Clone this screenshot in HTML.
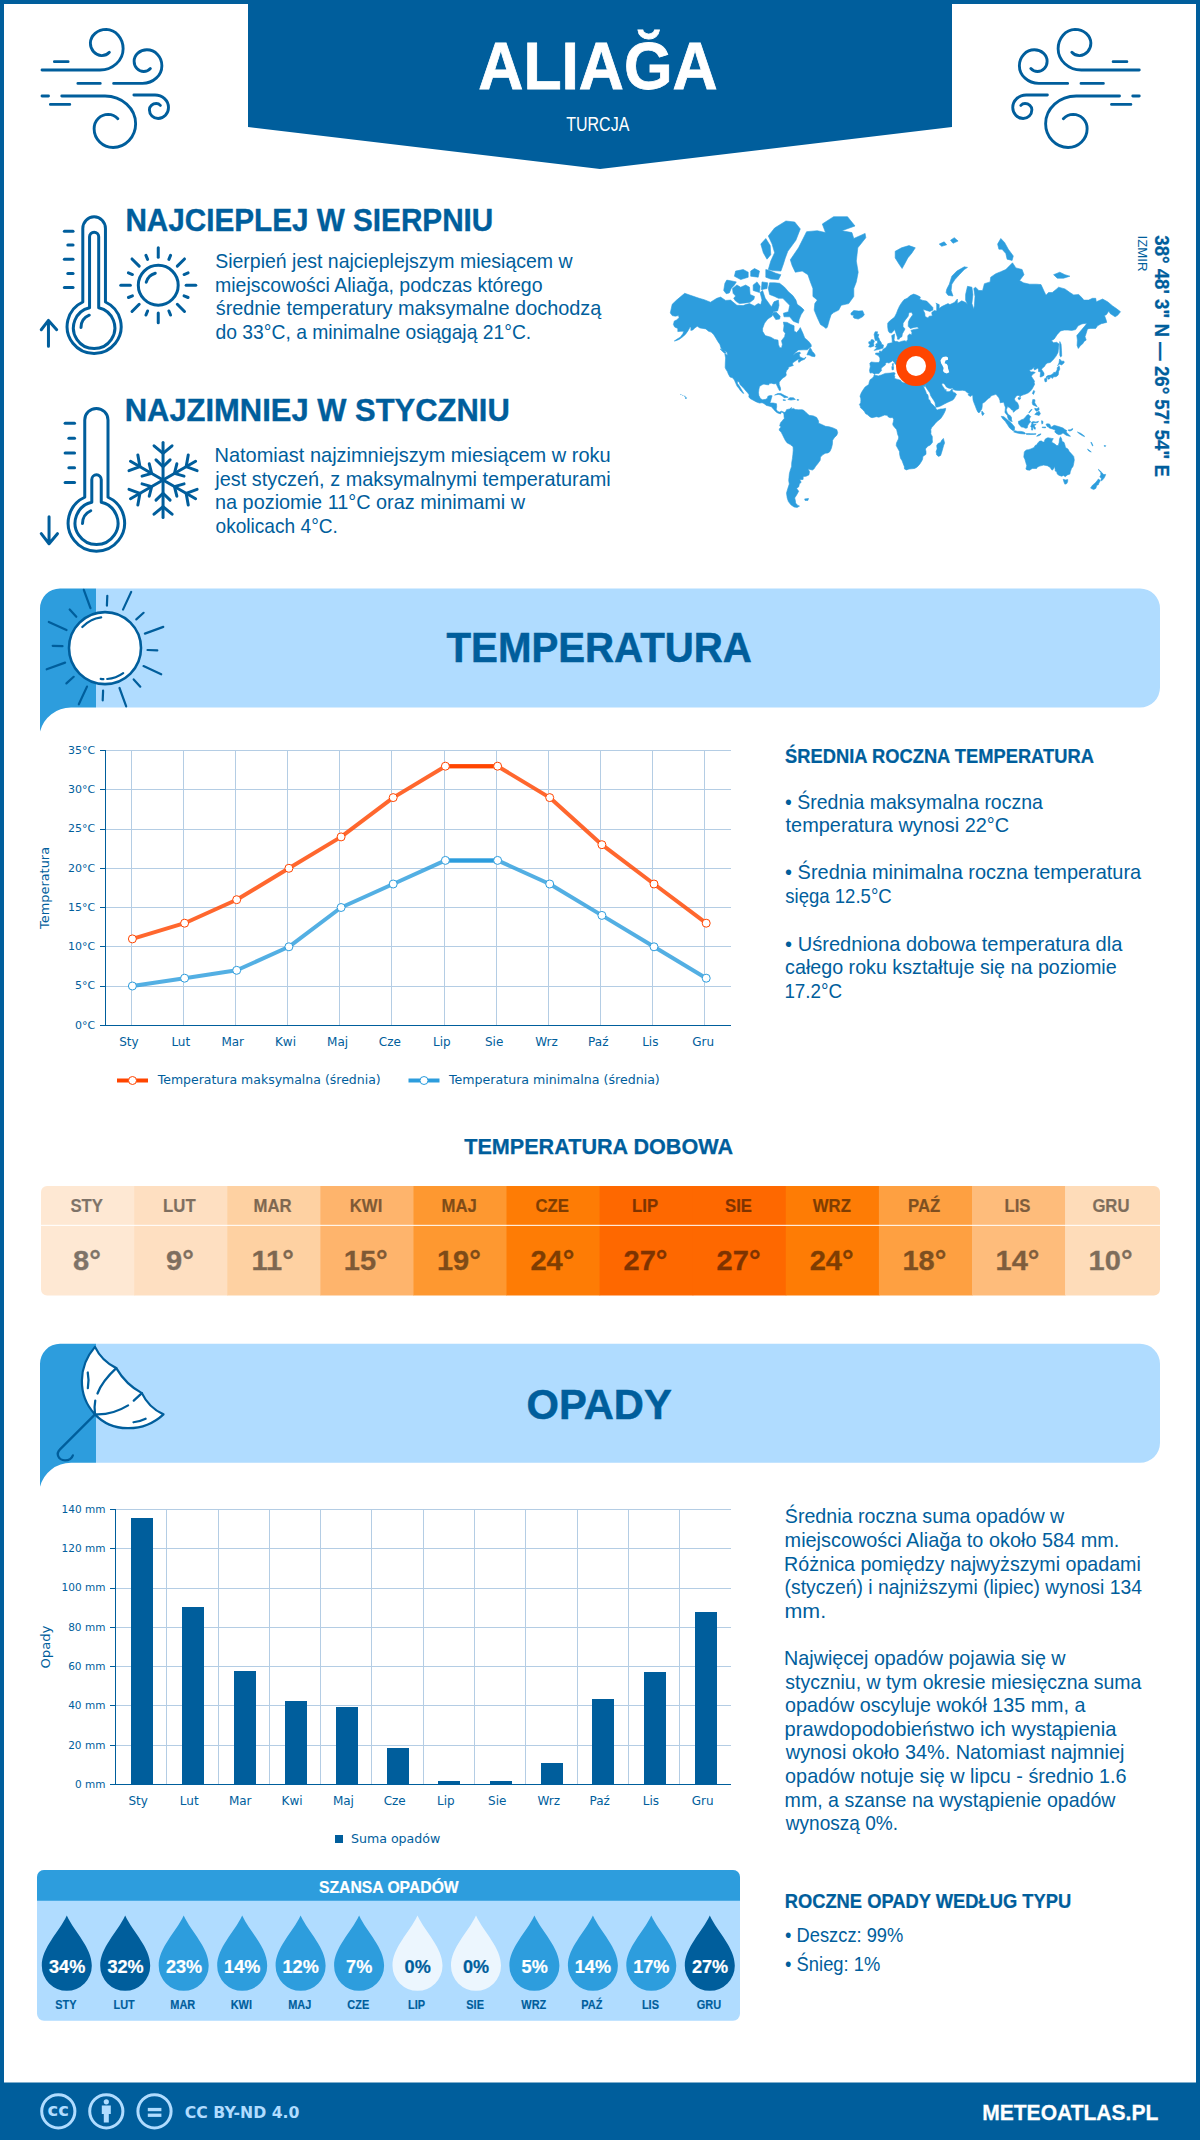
<!DOCTYPE html>
<html lang="pl">
<head>
<meta charset="utf-8">
<title>Aliağa (Turcja) – pogoda i klimat | meteoatlas.pl</title>
<style>
html,body{margin:0;padding:0;background:#fff}
body{width:1200px;height:2140px;overflow:hidden}
svg{display:block}
text{white-space:pre}
</style>
</head>
<body>
<svg width="1200" height="2140" viewBox="0 0 1200 2140" font-family="Liberation Sans, sans-serif" fill="#005e9c">
<rect x="2" y="2" width="1196" height="2136" fill="#fff" stroke="#005e9c" stroke-width="4"/>
<g id="header"><polygon points="248,0 952,0 952,127 600,169 248,127" fill="#005e9c"/>
<text x="478.3" y="89.3" font-size="66.2" font-weight="bold" fill="#ffffff" stroke="#ffffff" stroke-width="0.79" textLength="239.3" lengthAdjust="spacingAndGlyphs">ALIAĞA</text>
<text x="566.3" y="130.7" font-size="20.3" fill="#ffffff" textLength="63.0" lengthAdjust="spacingAndGlyphs">TURCJA</text>
</g>
<g id="wind" fill="none" stroke="#005e9c" stroke-width="23" stroke-linecap="round" stroke-linejoin="round">
<g transform="translate(30,20) scale(0.125)"><path d="M195,333H305 M96,400H560A185,170 0 0 0 745,230A138,155 0 0 0 610,75A127,112 0 0 0 483,185A92,100 0 0 0 572,285A82,82 0 0 0 635,258 M383,507H562 M669,507H900A155,142 0 0 0 1055,365A120,127 0 0 0 935,238A102,92 0 0 0 833,330A77,82 0 0 0 910,412A70,70 0 0 0 963,388 M96,608H148 M254,608H600A245,222 0 0 1 845,830A180,190 0 0 1 665,1020A152,150 0 0 1 513,870A112,115 0 0 1 625,755A110,110 0 0 1 703,790 M163,675H318 M831,600H1000A108,100 0 0 1 1108,700A83,88 0 0 1 1025,788A70,70 0 0 1 955,718A55,50 0 0 1 1010,668A45,45 0 0 1 1043,683"/></g>
<g transform="translate(1000,20) scale(0.125) translate(1210,0) scale(-1,1)"><path d="M195,333H305 M96,400H560A185,170 0 0 0 745,230A138,155 0 0 0 610,75A127,112 0 0 0 483,185A92,100 0 0 0 572,285A82,82 0 0 0 635,258 M383,507H562 M669,507H900A155,142 0 0 0 1055,365A120,127 0 0 0 935,238A102,92 0 0 0 833,330A77,82 0 0 0 910,412A70,70 0 0 0 963,388 M96,608H148 M254,608H600A245,222 0 0 1 845,830A180,190 0 0 1 665,1020A152,150 0 0 1 513,870A112,115 0 0 1 625,755A110,110 0 0 1 703,790 M163,675H318 M831,600H1000A108,100 0 0 1 1108,700A83,88 0 0 1 1025,788A70,70 0 0 1 955,718A55,50 0 0 1 1010,668A45,45 0 0 1 1043,683"/></g>
</g>
<g id="thermo" fill="none" stroke="#005e9c" stroke-width="20" stroke-linecap="round" stroke-linejoin="round">
<g transform="translate(30,200) scale(0.15)"><path d="M352,680V190A75,77 0 0 1 503,190V680A180,180 0 1 1 352,680Z"/><path d="M397,718V245A30,30 0 0 1 458,245V718A138,138 0 1 1 397,718Z"/><path d="M229,208H287"/><path d="M252,300H287"/><path d="M229,395H287"/><path d="M252,490H287"/><path d="M229,583H287"/><path d="M340,850A90,90 0 0 1 395,768"/><path d="M123,975V805M75,865L123,803L178,865"/><circle cx="855" cy="568" r="133"/><path d="M775,548A85,85 0 0 1 835,488"/><path d="M855,382L855,318"/><path d="M926,396L937,369"/><path d="M982,441L1030,393"/><path d="M1027,497L1054,486"/><path d="M1041,568L1105,568"/><path d="M1027,639L1054,650"/><path d="M982,695L1030,743"/><path d="M926,740L937,767"/><path d="M855,754L855,818"/><path d="M784,740L773,767"/><path d="M728,695L680,743"/><path d="M683,639L656,650"/><path d="M669,568L605,568"/><path d="M683,497L656,486"/><path d="M728,441L680,393"/><path d="M784,396L773,369"/></g>
<g transform="translate(30,390) scale(0.15)"><path d="M365,715V200A77,77 0 0 1 520,200V715A188,188 0 1 1 365,715Z"/><path d="M412,748V597A31,31 0 0 1 475,597V748A143,143 0 1 1 412,748Z"/><path d="M234,222H297"/><path d="M259,322H297"/><path d="M234,420H297"/><path d="M259,518H297"/><path d="M234,617H297"/><path d="M350,890A95,95 0 0 1 405,805"/><path d="M127,845V1022M75,958L127,1025L183,958"/><path d="M887,600L887,350"/><path d="M947,372L887,422L827,372"/><path d="M934,466L887,512L840,466"/><path d="M887,600L1104,475"/><path d="M1114,538L1041,511L1055,434"/><path d="M1027,574L963,556L979,492"/><path d="M887,600L1104,725"/><path d="M1055,766L1041,689L1114,662"/><path d="M979,708L963,644L1027,626"/><path d="M887,600L887,850"/><path d="M827,828L887,778L947,828"/><path d="M840,734L887,688L934,734"/><path d="M887,600L670,725"/><path d="M660,662L733,689L719,766"/><path d="M747,626L811,644L795,708"/><path d="M887,600L670,475"/><path d="M719,434L733,511L660,538"/><path d="M795,492L811,556L747,574"/></g>
</g>
<g id="toptext">
<text x="125.4" y="231.0" font-size="31.0" font-weight="bold" stroke="#005e9c" stroke-width="0.37" textLength="367.9" lengthAdjust="spacingAndGlyphs">NAJCIEPLEJ W SIERPNIU</text>
<text x="215.2" y="268.3" font-size="20.2" textLength="357.4" lengthAdjust="spacingAndGlyphs">Sierpień jest najcieplejszym miesiącem w</text>
<text x="215.0" y="291.8" font-size="20.2" textLength="327.5" lengthAdjust="spacingAndGlyphs">miejscowości Aliağa, podczas którego</text>
<text x="215.7" y="315.3" font-size="20.2" textLength="385.6" lengthAdjust="spacingAndGlyphs">średnie temperatury maksymalne dochodzą</text>
<text x="215.5" y="338.8" font-size="20.2" textLength="315.7" lengthAdjust="spacingAndGlyphs">do 33°C, a minimalne osiągają 21°C.</text>
<text x="124.7" y="421.3" font-size="31.0" font-weight="bold" stroke="#005e9c" stroke-width="0.37" textLength="385.1" lengthAdjust="spacingAndGlyphs">NAJZIMNIEJ W STYCZNIU</text>
<text x="214.5" y="462.0" font-size="20.2" textLength="396.1" lengthAdjust="spacingAndGlyphs">Natomiast najzimniejszym miesiącem w roku</text>
<text x="215.3" y="485.5" font-size="20.2" textLength="395.4" lengthAdjust="spacingAndGlyphs">jest styczeń, z maksymalnymi temperaturami</text>
<text x="215.0" y="509.0" font-size="20.2" textLength="310.1" lengthAdjust="spacingAndGlyphs">na poziomie 11°C oraz minimami w</text>
<text x="215.5" y="532.5" font-size="20.2" textLength="122.4" lengthAdjust="spacingAndGlyphs">okolicach 4°C.</text>
<text transform="translate(1154.8,235.3) rotate(90)" font-size="20.7" font-weight="bold" stroke="#005e9c" stroke-width="0.25" textLength="241.6" lengthAdjust="spacingAndGlyphs">38° 48' 3" N — 26° 57' 54" E</text>
<text transform="translate(1138.0,235.6) rotate(90)" font-size="13.5" textLength="35.8" lengthAdjust="spacingAndGlyphs">IZMIR</text>
</g>
<g id="map"><path fill="#2d9ddd" stroke="#2d9ddd" stroke-width="0.6" stroke-linejoin="round" d="M670.3,312.9L672.2,304.3L676.6,300.1L684.7,293.3L690.4,295.3L699.2,298.3L704.2,299.7L710.5,302.2L716.8,298.3L720.6,297.1L725.6,300.4L730.6,300.1L736.9,305.3L743.2,305.6L745.7,304.6L749.5,303.6L754.5,305.9L758.2,303.6L760.8,304.6L762.0,300.1L760.1,292.5L762.6,290.5L765.2,298.3L768.3,302.5L771.4,306.9L774.0,301.8L778.4,300.1L779.0,305.3L777.7,310.8L773.3,311.7L772.1,316.2L767.7,319.1L764.5,323.2L762.6,328.4L762.6,331.3L765.2,335.6L770.8,337.2L774.6,339.4L778.0,340.1L778.4,344.4L779.6,347.5L781.5,347.9L782.4,344.4L781.5,340.7L784.6,336.7L785.3,333.3L783.4,330.9L784.0,325.8L783.4,322.1L787.2,322.4L790.9,324.5L794.1,325.8L794.1,330.9L796.6,332.5L799.1,329.6L800.3,327.6L802.9,333.3L804.7,337.9L808.5,341.2L811.0,344.4L811.4,346.4L809.8,347.5L807.3,349.8L803.5,349.8L798.5,350.0L795.3,352.4L792.8,355.6L795.9,353.1L799.7,352.0L800.6,353.3L799.1,354.6L800.0,357.0L802.2,357.9L804.1,358.5L806.0,357.0L804.7,359.2L801.6,360.4L798.8,362.4L798.2,360.6L800.3,358.8L797.2,359.7L794.7,361.5L792.8,362.7L792.4,364.1L793.4,365.4L790.9,366.3L788.4,367.3L788.2,369.1L786.5,370.7L785.9,372.8L786.3,375.3L784.9,376.7L782.8,378.0L780.9,380.0L779.2,382.2L779.2,384.4L780.5,387.9L780.6,390.3L779.4,390.5L778.4,388.6L777.4,386.5L776.1,383.6L774.0,383.9L771.4,383.2L769.2,383.4L768.9,384.8L767.0,384.7L763.9,384.1L762.0,384.8L759.5,386.5L758.9,389.3L758.5,392.8L758.9,395.5L760.4,398.5L762.6,399.8L765.8,399.3L767.4,398.2L767.9,396.2L770.2,395.5L772.1,395.7L771.4,398.2L770.6,400.9L769.9,403.0L773.3,403.0L776.5,403.7L776.7,406.7L776.2,409.3L777.7,411.5L779.6,412.1L781.5,411.2L784.0,412.2L784.3,413.1L783.1,412.7L781.5,412.0L780.5,413.9L779.0,413.4L777.1,412.7L774.6,410.6L773.6,409.3L771.4,406.7L768.9,406.1L766.4,405.4L763.9,403.5L762.0,402.7L759.5,403.1L756.4,401.9L753.2,400.2L750.1,398.5L748.8,396.9L749.1,394.8L747.6,392.8L745.1,390.0L743.8,388.2L741.9,386.5L740.0,384.4L739.1,381.9L737.3,381.2L737.5,383.6L739.4,386.1L741.3,389.3L742.8,391.8L743.8,393.4L742.8,393.1L740.7,391.0L738.8,388.2L737.1,386.2L735.9,383.6L734.4,380.0L732.5,377.7L730.0,377.0L728.3,373.9L727.5,371.8L725.8,369.1L725.2,367.6L725.3,363.2L725.6,357.9L724.8,353.7L727.5,355.2L727.1,352.4L724.3,350.4L721.2,348.5L719.9,344.4L717.7,341.2L715.8,337.9L713.6,334.4L711.1,332.1L708.6,331.3L705.8,328.9L703.0,328.4L699.8,327.9L697.3,326.3L694.8,327.9L692.9,329.9L690.8,330.4L691.0,325.8L692.9,325.0L689.8,327.6L687.9,330.9L685.4,334.4L682.2,337.2L679.1,339.4L675.9,340.7L674.3,341.0L677.2,339.0L680.3,337.2L682.9,333.7L683.7,331.3L681.0,331.3L677.8,331.6L677.8,328.4L674.7,327.1L673.4,324.5L674.3,321.0L676.6,319.9L679.1,317.7L678.5,315.6L675.3,316.2L672.2,315.6ZM804.1,310.1L801.0,314.7L799.1,319.6L798.5,323.2L793.4,321.3L789.7,316.8L784.0,316.8L783.4,313.2L788.4,311.7L789.7,305.3L782.8,298.3L778.4,298.3L774.6,296.4L769.6,294.5L768.3,288.5L769.6,282.8L774.6,282.8L779.6,283.3L784.6,287.2L788.4,291.7L792.8,295.6L795.9,300.1L797.2,304.3L801.6,307.6ZM735.6,301.1L739.4,303.6L745.7,302.9L750.1,302.2L753.9,299.3L754.5,296.4L750.1,294.5L749.5,287.2L745.7,285.0L740.7,287.2L736.9,285.0L732.5,288.5L733.1,293.3L735.6,296.0L733.7,298.3ZM723.7,290.5L726.2,293.7L729.3,292.9L731.2,288.5L734.4,285.0L736.3,281.9L731.9,281.0L726.8,280.1L724.9,283.3ZM768.3,269.5L773.3,270.6L780.9,271.1L783.4,264.0L785.3,257.9L787.8,251.3L795.9,240.2L800.3,228.9L794.7,222.0L785.9,221.0L774.6,228.0L768.3,236.0L772.1,244.1L774.6,252.7L770.8,261.0ZM760.8,244.1L765.8,238.5L770.2,245.6L770.8,254.7L767.0,259.2L763.3,252.7ZM780.9,274.7L778.4,279.6L770.8,279.1L765.8,277.2L765.8,269.5L769.6,270.6L775.8,273.2ZM734.4,276.2L740.7,279.6L748.2,277.2L748.2,272.2L743.2,269.5L735.6,271.1ZM750.7,276.2L758.2,277.2L759.5,271.1L754.5,268.5L750.7,271.1ZM753.2,290.5L759.5,292.5L760.1,286.3L757.0,281.9L753.2,285.0ZM761.4,289.7L767.0,288.5L767.7,282.8L762.0,281.9ZM772.1,313.8L775.8,319.6L779.6,319.1L780.2,316.2L776.5,312.3L774.0,312.3ZM806.9,354.8L809.1,355.0L811.7,356.3L814.8,356.7L815.2,355.0L813.9,353.1L812.3,351.4L811.4,349.4L810.1,347.7L809.1,349.8L807.9,352.4ZM720.2,348.9L723.9,350.0L726.2,353.3L724.3,353.1L721.8,350.8ZM790.3,259.8L798.5,247.8L806.6,231.7L817.3,230.7L825.5,232.6L822.3,224.0L833.6,216.7L847.5,216.7L855.0,226.0L841.8,230.7L851.9,232.6L853.8,238.5L865.1,233.4L865.8,237.7L857.8,247.8L856.3,261.0L858.2,272.2L856.3,281.9L853.8,288.5L853.8,296.4L848.7,303.6L841.2,305.3L838.7,310.1L833.6,312.6L831.1,314.7L829.2,320.5L827.4,327.1L826.1,328.4L823.6,326.6L820.5,324.5L818.6,320.5L816.7,316.2L814.2,310.1L814.8,303.6L817.3,300.1L812.9,296.4L812.9,288.5L810.4,281.9L807.9,274.7L802.2,271.1L795.3,272.2L792.2,265.7ZM850.9,313.2L853.8,310.5L858.8,311.1L862.6,310.8L864.3,314.7L862.6,316.8L858.2,319.1L854.4,318.2L853.1,317.1L853.8,315.3L851.2,315.0ZM784.3,412.5L785.9,411.5L786.5,409.7L789.7,408.9L791.6,407.5L791.2,409.3L793.4,408.4L795.3,409.5L798.5,409.8L802.2,409.7L804.1,410.6L806.0,412.5L809.1,415.3L813.5,415.9L816.7,417.5L818.6,421.1L818.6,423.2L821.1,424.2L825.5,426.3L829.2,426.8L833.0,427.9L836.8,429.7L837.7,432.7L836.8,435.2L834.3,437.7L832.6,440.3L832.4,444.2L831.4,448.2L829.9,451.6L828.0,452.9L825.5,453.2L823.0,454.6L820.5,457.1L820.2,460.3L817.9,463.5L815.8,466.1L813.9,469.0L812.3,470.1L809.8,469.4L808.0,468.7L809.5,471.7L808.9,474.9L806.0,476.3L803.2,476.5L803.1,479.4L799.7,479.8L801.2,482.3L799.3,484.0L798.8,486.7L796.6,488.5L798.7,491.2L796.6,495.0L794.7,497.9L795.4,500.8L795.6,503.1L797.8,505.4L799.5,506.1L797.2,507.4L794.1,507.0L790.9,504.8L788.4,501.6L787.2,497.9L786.5,493.1L787.8,488.5L789.3,484.0L788.7,480.6L789.0,477.3L789.4,473.6L790.3,470.2L791.6,466.4L791.7,462.8L792.4,458.5L792.9,454.3L793.2,450.2L793.1,446.7L790.3,444.6L787.2,442.9L785.5,440.7L784.3,438.4L782.4,434.6L781.1,432.0L779.4,430.5L779.2,428.9L780.6,427.5L780.9,426.3L779.7,426.0L780.2,423.8L780.9,422.2L782.1,421.3L782.8,420.1L784.3,418.4L784.0,416.3L784.0,414.4L783.5,414.0ZM874.0,375.0L878.3,375.9L881.4,375.0L885.2,373.4L890.2,373.1L894.0,372.6L895.2,373.2L894.3,375.4L895.0,377.0L894.2,378.0L895.9,378.9L897.7,379.4L900.6,380.3L901.5,381.8L904.0,382.9L906.3,382.5L906.8,380.3L909.0,379.4L910.9,380.4L912.8,381.2L916.0,381.8L917.8,382.3L920.4,381.5L922.0,381.9L922.4,383.8L923.5,386.5L924.4,388.6L926.0,392.1L926.3,393.5L927.8,394.8L928.3,396.9L928.3,399.1L929.8,400.2L930.8,403.1L932.9,404.8L934.8,406.7L935.8,407.4L935.8,408.7L937.3,409.9L940.5,409.0L943.0,408.9L945.7,408.3L945.5,410.1L944.2,413.1L942.3,416.3L940.5,418.8L937.9,420.7L935.4,423.2L933.6,425.5L931.7,427.6L930.8,429.5L931.0,432.0L930.8,433.9L932.3,436.5L932.3,439.7L932.5,442.3L930.4,444.9L927.8,446.2L925.4,448.9L926.0,451.6L926.0,454.3L922.9,456.4L922.6,459.2L921.6,461.3L919.7,464.2L917.2,466.9L914.7,468.4L911.6,468.8L909.0,469.0L906.5,469.9L904.5,469.0L904.3,466.4L903.1,463.5L902.1,460.7L900.5,458.2L899.6,454.3L899.5,451.6L897.7,448.2L896.2,445.5L896.5,442.9L898.4,439.0L898.7,436.9L897.7,434.6L896.9,430.8L896.5,429.4L895.2,428.0L893.3,425.7L892.7,424.1L893.3,421.9L893.7,419.4L892.6,417.5L890.2,417.7L888.3,416.9L887.1,415.3L884.5,415.1L882.7,415.8L878.9,417.2L876.4,416.7L872.0,417.7L870.1,416.9L867.6,414.8L865.7,413.7L864.4,411.5L862.6,409.5L860.4,407.6L860.3,406.1L859.4,404.5L860.7,402.8L860.9,400.2L860.7,398.2L860.0,396.2L861.3,392.8L862.8,390.3L865.1,387.0L866.9,385.8L868.8,384.4L869.2,382.2L870.1,379.7L872.6,378.0L873.9,376.2ZM943.4,438.4L944.6,442.9L943.6,445.5L942.3,450.2L940.7,455.4L938.6,456.4L936.7,455.0L936.1,451.6L937.1,448.9L936.7,445.5L937.9,443.6L940.5,442.5L941.7,440.3ZM870.1,373.1L869.5,370.4L870.3,366.6L869.8,363.2L871.3,362.0L875.1,362.4L878.9,362.5L879.9,360.6L879.9,357.9L878.3,355.6L875.5,354.3L875.7,353.1L879.3,352.9L879.5,351.0L881.7,351.4L883.4,348.9L885.8,347.7L887.1,345.4L887.7,343.7L890.2,343.1L892.3,342.7L892.1,339.0L891.7,335.6L894.6,334.0L894.3,337.9L894.0,340.1L895.2,341.6L897.1,341.4L899.0,342.3L902.1,341.2L904.6,340.7L906.3,341.4L907.8,339.4L907.8,335.6L909.7,334.0L911.6,335.1L911.9,332.5L910.9,330.4L914.1,329.4L917.2,328.9L919.1,328.4L917.2,326.9L914.1,327.4L910.3,328.6L908.2,326.3L908.4,321.8L909.7,319.1L912.8,314.7L911.6,312.3L909.0,312.6L908.2,316.2L905.3,319.9L903.1,323.2L903.0,326.6L905.0,328.9L904.0,330.9L902.4,333.7L901.9,336.7L899.6,337.9L899.2,339.2L897.5,339.2L897.4,337.2L896.2,334.0L895.2,330.9L894.6,329.6L893.3,331.3L891.5,333.0L889.6,332.8L888.3,330.9L887.7,327.1L887.7,323.2L889.6,321.0L892.1,319.1L894.6,317.1L896.5,313.2L897.7,310.1L899.6,305.9L901.5,302.9L904.0,299.7L907.2,298.3L910.3,295.6L913.7,294.1L917.2,295.3L920.4,297.1L919.7,299.3L922.9,300.4L926.6,301.1L929.8,304.3L932.9,307.6L932.9,310.1L929.8,311.4L925.4,310.1L922.9,309.5L924.8,313.2L925.1,316.5L927.9,317.9L929.2,316.2L932.3,315.9L931.7,312.6L934.2,310.5L936.7,311.1L936.7,303.6L935.8,303.2L939.2,304.6L939.2,308.6L941.7,306.6L948.0,303.6L949.9,304.6L954.3,302.5L957.4,299.0L957.4,303.6L961.8,300.8L965.6,302.5L967.5,304.6L965.6,300.1L965.6,294.5L967.5,286.3L971.9,287.2L972.9,294.5L971.9,303.6L973.8,309.2L974.4,305.3L975.0,296.4L973.8,288.5L975.6,287.2L978.8,290.5L982.6,290.5L984.4,283.7L990.1,281.9L990.7,277.2L995.8,273.7L1000.8,271.7L1005.8,269.5L1012.5,262.8L1015.9,267.9L1022.1,269.5L1024.0,274.7L1019.6,280.5L1023.4,282.8L1029.7,284.2L1036.6,284.2L1041.0,284.6L1044.1,291.3L1046.0,295.3L1048.5,292.5L1052.3,292.5L1056.7,288.9L1058.6,287.2L1064.9,288.9L1069.9,292.5L1073.7,294.9L1078.7,294.5L1082.5,298.3L1083.7,300.1L1088.7,300.1L1092.5,298.3L1095.7,298.3L1096.3,301.8L1102.6,299.0L1107.6,301.8L1112.6,305.9L1116.4,308.6L1120.5,311.7L1117.6,315.3L1115.1,316.8L1110.1,313.5L1108.9,311.1L1106.3,314.7L1104.5,315.6L1106.3,320.5L1106.7,322.4L1101.3,323.7L1097.5,325.8L1095.7,328.4L1090.0,328.4L1087.5,328.9L1086.2,333.3L1085.0,336.7L1086.2,340.1L1084.3,341.2L1082.5,344.0L1080.6,345.4L1078.3,348.5L1077.1,345.4L1077.4,340.1L1076.8,335.6L1078.7,333.3L1081.8,329.6L1085.0,325.8L1086.9,323.2L1083.1,323.7L1081.8,324.0L1078.1,325.8L1075.6,329.6L1071.8,330.4L1068.0,330.1L1064.2,330.1L1060.5,330.9L1057.3,334.4L1054.2,339.0L1051.4,340.7L1053.6,342.7L1056.7,342.3L1059.0,344.0L1058.6,347.5L1058.0,352.4L1056.1,356.1L1053.6,359.2L1050.4,362.4L1047.3,363.1L1045.6,364.4L1044.4,366.6L1042.2,368.3L1041.6,369.4L1044.0,373.1L1043.9,375.4L1041.6,376.7L1040.1,377.0L1040.4,373.9L1040.7,372.0L1038.5,371.5L1038.5,369.1L1037.6,368.3L1034.7,369.9L1033.8,369.1L1034.5,367.0L1031.6,369.6L1029.3,369.9L1030.7,372.0L1033.2,371.8L1035.3,372.6L1032.8,374.3L1031.3,376.2L1032.8,378.5L1034.5,381.2L1034.1,382.9L1034.7,384.1L1033.5,386.5L1031.9,389.3L1030.3,391.2L1028.4,392.8L1025.9,393.9L1024.0,394.6L1020.9,395.7L1020.0,397.1L1019.3,395.5L1017.1,395.4L1015.5,396.9L1014.4,398.9L1015.2,400.9L1017.5,402.8L1018.8,406.1L1018.6,408.4L1015.9,410.1L1014.0,411.8L1013.1,412.2L1013.3,410.6L1011.5,409.8L1010.2,408.0L1008.3,407.1L1007.7,406.1L1007.1,408.0L1006.2,409.9L1007.1,412.5L1008.3,414.6L1010.2,415.6L1011.5,417.5L1011.5,420.1L1012.3,421.4L1010.8,421.3L1008.7,419.7L1007.7,417.5L1007.4,415.6L1005.8,413.4L1004.9,412.5L1005.2,409.9L1005.4,407.4L1004.2,404.1L1003.9,402.2L1002.0,402.4L1000.2,402.8L999.9,400.2L998.9,397.8L997.0,395.5L995.8,394.2L994.5,394.8L992.6,395.3L990.7,396.2L990.1,397.5L988.2,398.5L986.3,400.5L984.4,402.2L982.3,403.5L982.2,406.5L981.7,409.3L980.9,410.3L980.0,411.8L978.8,413.0L977.5,411.5L976.3,408.7L975.3,406.1L974.1,403.1L973.1,400.2L972.9,398.2L972.8,395.9L972.1,395.1L970.6,396.5L968.7,395.5L968.1,394.2L969.7,393.8L967.5,392.8L966.2,391.8L965.2,390.7L962.5,390.3L958.7,390.5L955.5,390.2L953.4,389.6L952.8,387.9L950.3,388.5L948.0,387.9L946.1,386.7L944.9,384.4L943.0,383.1L941.7,383.9L942.3,385.8L943.6,387.5L944.5,388.9L945.2,391.0L945.9,389.2L946.2,391.4L948.0,391.8L949.9,391.4L951.8,389.3L952.3,388.9L952.4,391.0L953.7,392.4L955.3,393.1L956.5,394.2L955.3,396.6L953.9,398.9L952.4,400.2L950.5,401.1L947.4,402.4L944.2,404.1L941.1,405.8L937.9,407.0L936.1,407.1L935.4,405.4L935.1,402.8L933.8,400.5L932.3,398.2L930.7,395.8L929.8,392.8L928.3,390.7L926.6,388.2L925.4,386.4L925.3,384.4L924.5,386.8L923.1,385.5L922.4,383.6L922.0,381.9L924.4,381.8L925.3,380.0L926.0,377.7L926.5,375.4L926.8,373.6L924.8,373.6L922.2,374.5L919.9,373.4L917.8,373.9L916.0,373.1L914.7,370.7L914.3,369.1L914.7,367.9L916.0,367.6L915.0,367.4L914.1,366.8L912.2,366.8L911.3,368.3L910.1,367.4L909.9,369.4L910.9,370.7L911.6,372.0L910.3,371.7L910.6,372.6L909.9,373.9L908.7,373.4L908.0,371.8L907.8,370.2L906.5,368.8L905.8,367.4L905.9,365.4L904.6,364.1L902.1,362.4L900.2,360.6L899.4,359.2L898.6,358.5L896.9,359.2L897.1,361.2L898.5,362.2L899.6,364.4L901.5,365.1L903.4,367.0L904.6,368.1L902.8,367.4L902.3,368.8L902.9,369.9L901.6,371.5L901.1,371.2L901.5,369.1L900.6,367.9L899.4,367.0L897.1,365.6L895.2,364.1L894.3,362.4L892.7,360.8L890.8,361.9L888.9,363.1L887.1,362.5L885.4,363.2L885.4,364.9L883.9,366.1L882.0,367.4L881.0,369.1L881.7,370.2L880.5,371.8L878.9,373.4L875.7,373.6L874.5,374.5L873.5,373.6L872.2,372.8ZM874.2,350.4L877.0,349.8L880.1,349.1L883.0,348.1L883.5,345.0L881.8,344.4L881.1,342.3L879.5,340.1L878.9,337.9L877.9,337.2L878.9,334.4L877.0,334.0L877.6,331.8L875.1,331.8L874.1,334.4L874.5,336.7L874.9,339.0L875.4,340.5L877.3,340.5L877.6,343.3L875.7,344.0L876.1,345.4L874.9,346.8L877.4,347.7L876.0,348.5ZM873.9,346.0L873.6,343.3L874.4,341.2L873.2,339.7L871.1,339.7L870.7,341.4L868.8,341.8L868.8,343.5L870.1,344.2L869.1,346.0L868.6,346.8L870.7,347.2ZM1059.2,365.9L1059.8,369.1L1058.6,371.5L1058.3,374.7L1057.3,375.9L1055.8,376.7L1053.6,376.8L1052.3,378.5L1051.0,377.0L1048.5,377.3L1046.0,377.7L1046.0,377.0L1047.9,375.6L1051.0,375.1L1053.2,373.4L1053.9,372.3L1055.4,372.6L1057.1,369.9L1057.3,367.4ZM1057.7,365.8L1059.0,362.9L1059.6,359.0L1061.7,361.2L1064.0,361.2L1064.2,362.7L1061.7,364.9L1059.2,364.1ZM1044.8,378.5L1047.0,378.5L1046.6,381.5L1045.1,381.9L1044.5,379.5ZM1047.9,377.7L1050.4,377.4L1050.0,378.5L1048.5,379.2L1047.7,378.8ZM1059.8,341.6L1061.1,344.4L1061.5,350.4L1061.7,356.1L1060.7,357.0L1059.8,355.2L1059.8,350.4L1059.6,346.4ZM1034.1,390.5L1034.7,391.4L1033.5,394.4L1032.4,393.5L1033.5,390.7ZM1018.4,397.5L1020.9,397.8L1019.6,399.8L1018.0,398.9ZM981.9,411.0L984.2,413.7L982.6,415.6L981.7,413.7ZM1032.8,399.5L1035.0,399.8L1034.7,402.8L1037.2,406.7L1034.7,405.7L1032.8,404.8L1032.2,402.8ZM1034.7,414.4L1036.6,412.5L1039.1,411.2L1040.4,413.7L1039.1,415.6L1037.2,415.0ZM1034.7,408.3L1036.6,408.7L1038.9,407.6L1039.1,409.9L1036.6,411.2L1035.1,409.9ZM1028.7,412.5L1031.6,409.0L1031.9,409.7L1029.4,412.7ZM1001.2,416.3L1003.9,416.7L1007.7,420.1L1011.5,423.2L1014.6,427.0L1014.4,430.5L1012.7,430.5L1009.6,427.9L1007.4,424.5L1005.2,421.3L1002.7,418.8ZM1013.6,431.8L1015.2,430.8L1017.7,431.4L1020.9,431.4L1023.4,431.9L1025.3,433.0L1025.0,434.0L1020.9,433.7L1017.1,433.0L1014.0,432.0ZM1025.9,433.7L1028.4,433.5L1030.9,433.7L1033.5,433.8L1036.0,433.7L1035.7,434.3L1032.2,434.4L1028.4,434.6L1026.2,434.3ZM1036.6,436.2L1038.5,434.6L1041.0,433.8L1040.4,434.9L1037.9,436.1ZM1018.4,421.3L1019.6,420.9L1021.5,419.7L1023.4,419.2L1025.3,417.2L1027.2,415.0L1028.4,414.4L1029.4,415.6L1030.9,416.7L1029.7,417.9L1029.4,420.1L1030.7,421.9L1029.1,423.2L1027.8,425.5L1027.2,428.0L1025.3,428.2L1023.4,427.2L1021.5,427.0L1019.9,425.5L1018.6,423.8ZM1031.6,422.2L1033.2,421.6L1036.0,422.1L1038.5,421.3L1037.9,422.6L1033.5,422.7L1032.6,424.3L1034.1,424.3L1036.3,424.2L1034.7,425.5L1034.1,426.0L1035.3,427.6L1035.3,429.2L1034.1,428.9L1033.2,427.0L1032.6,427.6L1032.7,430.1L1031.6,430.1L1031.6,427.6L1030.7,426.7L1031.8,423.8ZM1041.6,420.7L1042.9,421.3L1042.9,423.2L1042.0,424.2L1041.6,422.6ZM1042.2,427.0L1045.8,427.0L1045.4,427.9L1042.2,427.6ZM1046.0,424.2L1047.9,423.7L1049.8,424.2L1051.0,427.3L1054.2,425.3L1058.6,426.5L1063.0,428.0L1064.9,429.5L1067.0,430.8L1066.1,431.8L1068.0,433.9L1070.5,436.2L1069.3,436.2L1066.1,435.2L1063.0,432.9L1061.1,434.3L1058.6,434.7L1056.1,433.3L1054.8,432.0L1055.4,430.1L1052.3,428.9L1049.2,428.0L1048.3,426.7L1047.3,426.7ZM1068.0,430.1L1070.5,429.7L1072.7,428.5L1072.4,429.9L1069.9,431.1ZM1024.3,452.2L1024.8,451.3L1026.5,449.9L1028.4,449.7L1030.9,448.9L1034.1,447.5L1035.1,445.5L1036.6,444.9L1037.9,442.9L1039.7,441.0L1041.6,441.0L1042.9,442.0L1044.4,442.0L1044.8,439.7L1046.0,438.6L1047.9,437.7L1051.7,438.4L1053.3,438.6L1052.3,440.3L1051.7,442.3L1054.2,443.6L1056.7,445.5L1058.3,445.5L1059.2,442.3L1059.5,439.0L1060.5,436.7L1061.7,439.0L1062.1,441.4L1064.0,442.3L1064.9,444.9L1065.5,447.5L1068.0,449.1L1069.3,451.6L1071.2,453.6L1073.7,456.4L1074.3,459.9L1073.7,463.5L1073.0,466.4L1071.5,468.4L1070.3,471.7L1069.9,474.1L1067.4,474.9L1065.2,476.7L1063.6,475.4L1061.7,476.2L1059.2,475.4L1057.3,474.1L1056.7,471.7L1055.2,471.0L1055.2,469.4L1054.6,466.4L1053.6,468.7L1052.3,470.2L1051.7,469.7L1050.0,467.2L1047.3,465.7L1043.5,465.1L1039.7,466.1L1037.2,467.2L1036.6,468.5L1032.2,468.5L1029.7,470.2L1027.2,469.9L1025.9,469.1L1026.8,465.7L1025.9,462.8L1024.9,459.2L1023.8,457.1L1024.0,455.0ZM1063.2,479.3L1065.5,479.9L1067.8,479.6L1067.6,481.8L1066.8,483.5L1064.9,484.2L1063.9,481.8ZM1098.4,469.3L1100.4,471.0L1101.9,472.8L1103.8,474.6L1105.7,474.4L1104.8,476.8L1103.7,478.6L1101.7,480.8L1100.9,480.3L1101.4,478.1L1099.8,477.0L1100.9,474.9L1100.7,472.5L1098.8,470.2ZM1098.4,479.0L1100.4,480.6L1098.8,483.2L1098.5,484.5L1096.7,485.4L1095.9,488.3L1093.8,489.5L1091.9,488.8L1090.6,488.1L1092.5,485.2L1095.0,483.2L1096.9,481.0ZM895.2,251.3L901.5,247.8L909.0,245.6L915.3,247.8L911.6,253.4L907.8,257.9L904.6,264.0L902.1,268.5L899.0,264.0L895.2,257.9ZM946.1,292.5L948.0,295.3L953.0,296.0L951.1,290.5L951.8,284.2L954.9,279.6L959.3,274.7L964.3,269.5L967.5,267.4L964.3,266.8L956.8,271.1L951.8,276.2L949.3,284.2L946.7,289.3ZM997.6,244.1L1000.8,238.5L1004.6,242.5L1008.3,249.2L1013.3,256.0L1012.1,260.4L1007.1,259.2L1005.8,253.4L1002.0,249.2L998.9,249.2ZM939.2,244.1L944.2,241.8L946.7,244.8L941.7,246.3ZM950.5,240.2L954.3,237.7L958.1,241.0L953.0,243.3ZM1053.6,274.7L1059.8,272.2L1064.9,274.7L1069.9,276.2L1063.6,278.2L1057.3,278.2ZM774.6,395.1L777.7,393.5L780.9,393.5L784.6,395.5L788.2,397.3L784.0,397.7L783.4,396.7L780.2,394.8L778.4,394.4L775.8,394.8ZM787.9,399.5L789.7,397.7L793.4,397.8L795.4,399.4L792.8,399.8L790.9,400.1ZM783.0,399.7L785.5,399.9L785.3,400.5L783.1,400.3ZM797.0,399.5L798.8,399.7L798.7,400.2L797.0,400.2ZM891.8,366.6L893.6,366.6L893.5,369.6L892.1,369.9ZM892.3,363.9L893.3,363.2L893.3,365.8L892.5,365.8ZM897.1,371.5L901.0,371.2L900.5,373.6L897.4,372.3ZM911.1,375.4L914.4,375.7L914.1,376.2L911.1,375.9ZM922.0,376.2L924.8,375.3L924.1,376.3L922.5,376.8ZM804.7,498.9L808.5,498.5L807.9,500.4L805.0,500.4ZM685.4,397.3L686.6,397.8L685.9,398.9L685.4,398.1ZM684.4,396.2L685.4,396.3L685.0,396.7ZM682.6,395.4L683.2,395.5L682.9,395.8ZM680.6,394.6L681.2,394.6L681.0,395.0ZM1087.5,449.1L1090.6,451.3L1091.3,452.1L1088.7,450.9ZM1104.2,445.5L1105.8,445.7L1105.3,446.5L1104.2,446.2ZM1077.4,432.0L1080.6,433.3L1083.1,435.1L1084.7,436.3L1084.3,436.6L1082.2,435.6L1079.3,433.7ZM1090.8,442.3L1091.6,442.5L1093.0,445.8L1092.5,445.9L1091.5,443.8Z"/><path fill="#fff" d="M943.0,357.0L946.1,356.5L948.0,357.4L948.0,359.7L945.5,360.6L944.6,363.2L946.7,364.1L947.8,365.8L948.0,368.3L948.6,369.9L949.3,372.3L946.7,373.4L944.2,372.6L943.0,371.0L943.6,367.9L942.3,365.3L941.1,363.2L940.5,360.6L941.7,358.3Z"/><circle cx="916" cy="366" r="15" fill="#fff" stroke="#ff4500" stroke-width="10"/></g>
<g id="temperature">
<path d="M60,588.5H1140A20,20 0 0 1 1160,608.5V687.5A20,20 0 0 1 1140,707.5H96V588.5Z" fill="#b0dcff"/><path d="M60,588.5H96V707.5H71A32,32 0 0 0 40,731.5V608.5A20,20 0 0 1 60,588.5Z" fill="#2d9ddd"/><g fill="none" stroke="#005e9c" stroke-width="2.2" stroke-linecap="round"><circle cx="105" cy="648.1" r="36" fill="#fff" stroke-width="2.6"/><path d="M106.9,605.6L107.3,595.8"/><path d="M123.0,609.6L131.2,591.9"/><path d="M136.3,619.4L143.6,612.8"/><path d="M144.9,633.6L163.3,626.9"/><path d="M147.5,650.0L157.3,650.4"/><path d="M143.5,666.1L161.2,674.3"/><path d="M133.7,679.4L140.3,686.7"/><path d="M119.5,688.0L126.2,706.4"/><path d="M103.1,690.6L102.7,700.4"/><path d="M87.0,686.6L78.8,704.3"/><path d="M73.7,676.8L66.4,683.4"/><path d="M65.1,662.6L46.7,669.3"/><path d="M62.5,646.2L52.7,645.8"/><path d="M66.5,630.1L48.8,621.9"/><path d="M76.3,616.8L69.7,609.5"/><path d="M90.5,608.2L83.8,589.8"/><path d="M82.3,627.0A31,31 0 0 1 101.2,617.3"/><path d="M123.2,673.2A31,31 0 0 1 107.2,679.0"/><path d="M103.4,679.1A31,31 0 0 1 100.7,678.8"/></g>
<g fill="none" shape-rendering="crispEdges" stroke="#b4cde4" stroke-width="1"><path d="M105.0,750.5H731.0"/><path d="M105.0,789.5H731.0"/><path d="M105.0,829.5H731.0"/><path d="M105.0,868.5H731.0"/><path d="M105.0,907.5H731.0"/><path d="M105.0,946.5H731.0"/><path d="M105.0,986.5H731.0"/><path d="M131.5,750.5V1025.3"/><path d="M183.5,750.5V1025.3"/><path d="M235.5,750.5V1025.3"/><path d="M287.5,750.5V1025.3"/><path d="M339.5,750.5V1025.3"/><path d="M391.5,750.5V1025.3"/><path d="M444.5,750.5V1025.3"/><path d="M496.5,750.5V1025.3"/><path d="M548.5,750.5V1025.3"/><path d="M600.5,750.5V1025.3"/><path d="M652.5,750.5V1025.3"/><path d="M704.5,750.5V1025.3"/></g><g fill="none" shape-rendering="crispEdges" stroke="#005e9c" stroke-width="1"><path d="M105.5,750.0V1025.8M105.0,1025.5H731.0"/><path d="M99.5,750.5H105.5"/><path d="M99.5,789.5H105.5"/><path d="M99.5,829.5H105.5"/><path d="M99.5,868.5H105.5"/><path d="M99.5,907.5H105.5"/><path d="M99.5,946.5H105.5"/><path d="M99.5,986.5H105.5"/><path d="M99.5,1025.5H105.5"/></g><polyline points="132.4,938.9 184.6,923.2 236.7,899.7 288.9,868.3 341.1,836.9 393.2,797.6 445.4,766.2 497.6,766.2 549.7,797.6 601.9,844.7 654.0,884.0 706.2,923.2" fill="none" stroke="#ff4500" stroke-opacity=".82" stroke-width="4" stroke-linejoin="round" stroke-linecap="round"/><path d="M445.4,766.2H497.6" stroke="#ff4500" stroke-width="4"/><g fill="#fff" stroke="#ff4500" stroke-width="1"><circle cx="132.4" cy="938.9" r="4"/><circle cx="184.6" cy="923.2" r="4"/><circle cx="236.7" cy="899.7" r="4"/><circle cx="288.9" cy="868.3" r="4"/><circle cx="341.1" cy="836.9" r="4"/><circle cx="393.2" cy="797.6" r="4"/><circle cx="445.4" cy="766.2" r="4"/><circle cx="497.6" cy="766.2" r="4"/><circle cx="549.7" cy="797.6" r="4"/><circle cx="601.9" cy="844.7" r="4"/><circle cx="654.0" cy="884.0" r="4"/><circle cx="706.2" cy="923.2" r="4"/></g><polyline points="132.4,986.0 184.6,978.2 236.7,970.3 288.9,946.8 341.1,907.5 393.2,884.0 445.4,860.4 497.6,860.4 549.7,884.0 601.9,915.4 654.0,946.8 706.2,978.2" fill="none" stroke="#2d9ddd" stroke-opacity=".82" stroke-width="4" stroke-linejoin="round" stroke-linecap="round"/><path d="M445.4,860.4H497.6" stroke="#2d9ddd" stroke-width="4"/><g fill="#fff" stroke="#2d9ddd" stroke-width="1"><circle cx="132.4" cy="986.0" r="4"/><circle cx="184.6" cy="978.2" r="4"/><circle cx="236.7" cy="970.3" r="4"/><circle cx="288.9" cy="946.8" r="4"/><circle cx="341.1" cy="907.5" r="4"/><circle cx="393.2" cy="884.0" r="4"/><circle cx="445.4" cy="860.4" r="4"/><circle cx="497.6" cy="860.4" r="4"/><circle cx="549.7" cy="884.0" r="4"/><circle cx="601.9" cy="915.4" r="4"/><circle cx="654.0" cy="946.8" r="4"/><circle cx="706.2" cy="978.2" r="4"/></g><path d="M117,1080.5H148" stroke="#ff4500" stroke-width="4"/><circle cx="132.5" cy="1080.5" r="4" fill="#fff" stroke="#ff4500" stroke-width="1"/><path d="M408.5,1080.5H439.5" stroke="#2d9ddd" stroke-width="4"/><circle cx="424.0" cy="1080.5" r="4" fill="#fff" stroke="#2d9ddd" stroke-width="1"/>
<clipPath id="tclip"><rect x="41" y="1186" width="1119" height="109.4" rx="6"/></clipPath><g clip-path="url(#tclip)"><rect x="41.0" y="1186" width="93.6" height="110" fill="#fee8d3"/><rect x="134.1" y="1186" width="93.6" height="110" fill="#fedfc1"/><rect x="227.2" y="1186" width="93.6" height="110" fill="#fed1a2"/><rect x="320.3" y="1186" width="93.6" height="110" fill="#feb46c"/><rect x="413.4" y="1186" width="93.6" height="110" fill="#fe9830"/><rect x="506.5" y="1186" width="93.6" height="110" fill="#fe7c05"/><rect x="599.6" y="1186" width="93.6" height="110" fill="#fe6800"/><rect x="692.7" y="1186" width="93.6" height="110" fill="#fe6800"/><rect x="785.8" y="1186" width="93.6" height="110" fill="#fe7c05"/><rect x="878.9" y="1186" width="93.6" height="110" fill="#fea041"/><rect x="972.0" y="1186" width="93.6" height="110" fill="#febc7b"/><rect x="1065.1" y="1186" width="96.0" height="110" fill="#fedcb9"/><rect x="41" y="1224.8" width="1119" height="1.2" fill="#fff" fill-opacity=".85"/></g>
<text x="446.5" y="662.3" font-size="42.4" font-weight="bold" stroke="#005e9c" stroke-width="0.51" textLength="305.4" lengthAdjust="spacingAndGlyphs">TEMPERATURA</text>
<text x="785.1" y="763.3" font-size="20.2" font-weight="bold" stroke="#005e9c" stroke-width="0.24" textLength="308.8" lengthAdjust="spacingAndGlyphs">ŚREDNIA ROCZNA TEMPERATURA</text>
<text x="785.1" y="808.5" font-size="20.2" textLength="257.7" lengthAdjust="spacingAndGlyphs">• Średnia maksymalna roczna</text>
<text x="785.6" y="832.1" font-size="20.2" textLength="223.6" lengthAdjust="spacingAndGlyphs">temperatura wynosi 22°C</text>
<text x="785.1" y="879.4" font-size="20.2" textLength="356.1" lengthAdjust="spacingAndGlyphs">• Średnia minimalna roczna temperatura</text>
<text x="785.3" y="903.0" font-size="20.2" textLength="106.4" lengthAdjust="spacingAndGlyphs">sięga 12.5°C</text>
<text x="785.1" y="950.5" font-size="20.2" textLength="337.2" lengthAdjust="spacingAndGlyphs">• Uśredniona dobowa temperatura dla</text>
<text x="785.1" y="974.2" font-size="20.2" textLength="331.6" lengthAdjust="spacingAndGlyphs">całego roku kształtuje się na poziomie</text>
<text x="784.4" y="997.9" font-size="20.2" textLength="57.7" lengthAdjust="spacingAndGlyphs">17.2°C</text>
<text x="68.0" y="753.8" font-size="11" font-family="DejaVu Sans, sans-serif">35°C</text>
<text x="68.0" y="793.1" font-size="11" font-family="DejaVu Sans, sans-serif">30°C</text>
<text x="68.0" y="832.3" font-size="11" font-family="DejaVu Sans, sans-serif">25°C</text>
<text x="68.0" y="871.6" font-size="11" font-family="DejaVu Sans, sans-serif">20°C</text>
<text x="68.0" y="910.8" font-size="11" font-family="DejaVu Sans, sans-serif">15°C</text>
<text x="68.0" y="950.1" font-size="11" font-family="DejaVu Sans, sans-serif">10°C</text>
<text x="75.0" y="989.3" font-size="11" font-family="DejaVu Sans, sans-serif">5°C</text>
<text x="75.0" y="1028.6" font-size="11" font-family="DejaVu Sans, sans-serif">0°C</text>
<text x="119.2" y="1045.7" font-size="12" font-family="DejaVu Sans, sans-serif">Sty</text>
<text x="171.4" y="1045.7" font-size="12" font-family="DejaVu Sans, sans-serif">Lut</text>
<text x="221.4" y="1045.7" font-size="12" font-family="DejaVu Sans, sans-serif">Mar</text>
<text x="275.0" y="1045.7" font-size="12" font-family="DejaVu Sans, sans-serif">Kwi</text>
<text x="327.1" y="1045.7" font-size="12" font-family="DejaVu Sans, sans-serif">Maj</text>
<text x="378.8" y="1045.7" font-size="12" font-family="DejaVu Sans, sans-serif">Cze</text>
<text x="433.0" y="1045.7" font-size="12" font-family="DejaVu Sans, sans-serif">Lip</text>
<text x="485.0" y="1045.7" font-size="12" font-family="DejaVu Sans, sans-serif">Sie</text>
<text x="535.2" y="1045.7" font-size="12" font-family="DejaVu Sans, sans-serif">Wrz</text>
<text x="588.1" y="1045.7" font-size="12" font-family="DejaVu Sans, sans-serif">Paź</text>
<text x="642.2" y="1045.7" font-size="12" font-family="DejaVu Sans, sans-serif">Lis</text>
<text x="692.2" y="1045.7" font-size="12" font-family="DejaVu Sans, sans-serif">Gru</text>
<text transform="translate(49.4,929.0) rotate(-90)" font-size="12" font-family="DejaVu Sans, sans-serif" textLength="82.1" lengthAdjust="spacingAndGlyphs">Temperatura</text>
<text x="157.7" y="1084.2" font-size="12" font-family="DejaVu Sans, sans-serif" textLength="223.0" lengthAdjust="spacingAndGlyphs">Temperatura maksymalna (średnia)</text>
<text x="449.0" y="1084.2" font-size="12" font-family="DejaVu Sans, sans-serif" textLength="210.8" lengthAdjust="spacingAndGlyphs">Temperatura minimalna (średnia)</text>
<text x="464.2" y="1154.2" font-size="21.2" font-weight="bold" stroke="#005e9c" stroke-width="0.25" textLength="268.8" lengthAdjust="spacingAndGlyphs">TEMPERATURA DOBOWA</text>
<text x="70.4" y="1211.6" font-size="17.6" font-weight="bold" fill="#000" opacity=".5" stroke="#000" stroke-width="0.21" textLength="32.5" lengthAdjust="spacingAndGlyphs">STY</text>
<text x="73.1" y="1270.0" font-size="26.9" font-weight="bold" fill="#000" opacity=".5" stroke="#000" stroke-width="0.32" textLength="27.8" lengthAdjust="spacingAndGlyphs">8°</text>
<text x="163.1" y="1211.6" font-size="17.6" font-weight="bold" fill="#000" opacity=".5" stroke="#000" stroke-width="0.21" textLength="32.5" lengthAdjust="spacingAndGlyphs">LUT</text>
<text x="166.1" y="1270.0" font-size="26.9" font-weight="bold" fill="#000" opacity=".5" stroke="#000" stroke-width="0.32" textLength="27.8" lengthAdjust="spacingAndGlyphs">9°</text>
<text x="253.5" y="1211.6" font-size="17.6" font-weight="bold" fill="#000" opacity=".5" stroke="#000" stroke-width="0.21" textLength="38.1" lengthAdjust="spacingAndGlyphs">MAR</text>
<text x="251.5" y="1270.0" font-size="26.9" font-weight="bold" fill="#000" opacity=".5" stroke="#000" stroke-width="0.32" textLength="42.3" lengthAdjust="spacingAndGlyphs">11°</text>
<text x="349.8" y="1211.6" font-size="17.6" font-weight="bold" fill="#000" opacity=".5" stroke="#000" stroke-width="0.21" textLength="32.5" lengthAdjust="spacingAndGlyphs">KWI</text>
<text x="343.8" y="1270.0" font-size="26.9" font-weight="bold" fill="#000" opacity=".5" stroke="#000" stroke-width="0.32" textLength="43.9" lengthAdjust="spacingAndGlyphs">15°</text>
<text x="441.5" y="1211.6" font-size="17.6" font-weight="bold" fill="#000" opacity=".5" stroke="#000" stroke-width="0.21" textLength="35.3" lengthAdjust="spacingAndGlyphs">MAJ</text>
<text x="436.9" y="1270.0" font-size="26.9" font-weight="bold" fill="#000" opacity=".5" stroke="#000" stroke-width="0.32" textLength="43.9" lengthAdjust="spacingAndGlyphs">19°</text>
<text x="535.5" y="1211.6" font-size="17.6" font-weight="bold" fill="#000" opacity=".5" stroke="#000" stroke-width="0.21" textLength="33.4" lengthAdjust="spacingAndGlyphs">CZE</text>
<text x="530.4" y="1270.0" font-size="26.9" font-weight="bold" fill="#000" opacity=".5" stroke="#000" stroke-width="0.32" textLength="43.9" lengthAdjust="spacingAndGlyphs">24°</text>
<text x="632.1" y="1211.6" font-size="17.6" font-weight="bold" fill="#000" opacity=".5" stroke="#000" stroke-width="0.21" textLength="26.0" lengthAdjust="spacingAndGlyphs">LIP</text>
<text x="623.5" y="1270.0" font-size="26.9" font-weight="bold" fill="#000" opacity=".5" stroke="#000" stroke-width="0.32" textLength="43.9" lengthAdjust="spacingAndGlyphs">27°</text>
<text x="725.0" y="1211.6" font-size="17.6" font-weight="bold" fill="#000" opacity=".5" stroke="#000" stroke-width="0.21" textLength="26.9" lengthAdjust="spacingAndGlyphs">SIE</text>
<text x="716.6" y="1270.0" font-size="26.9" font-weight="bold" fill="#000" opacity=".5" stroke="#000" stroke-width="0.32" textLength="43.9" lengthAdjust="spacingAndGlyphs">27°</text>
<text x="812.8" y="1211.6" font-size="17.6" font-weight="bold" fill="#000" opacity=".5" stroke="#000" stroke-width="0.21" textLength="38.1" lengthAdjust="spacingAndGlyphs">WRZ</text>
<text x="809.7" y="1270.0" font-size="26.9" font-weight="bold" fill="#000" opacity=".5" stroke="#000" stroke-width="0.32" textLength="43.9" lengthAdjust="spacingAndGlyphs">24°</text>
<text x="908.1" y="1211.6" font-size="17.6" font-weight="bold" fill="#000" opacity=".5" stroke="#000" stroke-width="0.21" textLength="32.2" lengthAdjust="spacingAndGlyphs">PAŹ</text>
<text x="902.4" y="1270.0" font-size="26.9" font-weight="bold" fill="#000" opacity=".5" stroke="#000" stroke-width="0.32" textLength="43.9" lengthAdjust="spacingAndGlyphs">18°</text>
<text x="1004.5" y="1211.6" font-size="17.6" font-weight="bold" fill="#000" opacity=".5" stroke="#000" stroke-width="0.21" textLength="26.0" lengthAdjust="spacingAndGlyphs">LIS</text>
<text x="995.5" y="1270.0" font-size="26.9" font-weight="bold" fill="#000" opacity=".5" stroke="#000" stroke-width="0.32" textLength="43.9" lengthAdjust="spacingAndGlyphs">14°</text>
<text x="1092.4" y="1211.6" font-size="17.6" font-weight="bold" fill="#000" opacity=".5" stroke="#000" stroke-width="0.21" textLength="37.1" lengthAdjust="spacingAndGlyphs">GRU</text>
<text x="1088.6" y="1270.0" font-size="26.9" font-weight="bold" fill="#000" opacity=".5" stroke="#000" stroke-width="0.32" textLength="43.9" lengthAdjust="spacingAndGlyphs">10°</text>
</g>
<g id="precipitation">
<path d="M60,1343.8H1140A20,20 0 0 1 1160,1363.8V1442.8A20,20 0 0 1 1140,1462.8H96V1343.8Z" fill="#b0dcff"/><path d="M60,1343.8H96V1462.8H71A32,32 0 0 0 40,1486.8V1363.8A20,20 0 0 1 60,1343.8Z" fill="#2d9ddd"/><g transform="translate(30,1335) scale(0.125)" fill="none" stroke="#005e9c" stroke-width="18" stroke-linecap="round" stroke-linejoin="round"><path d="M520,95C385,250 375,480 520,635C650,775 900,790 1068,635C990,600 930,540 895,465C810,420 740,350 690,265C610,225 555,170 520,95Z" fill="#fff"/><path d="M690,265C620,330 565,400 540,468M522,525C515,560 515,600 520,635M520,635C610,640 700,615 785,563M830,525L895,465"/><path d="M462,300C470,340 470,385 463,425M828,698C865,694 895,685 925,670"/><path d="M520,635L240,915C205,950 225,1001 280,1003C313,1003 335,987 343,963"/></g>
<g fill="none" shape-rendering="crispEdges" stroke="#b4cde4" stroke-width="1"><path d="M115.5,1509.5H731.0"/><path d="M115.5,1548.5H731.0"/><path d="M115.5,1588.5H731.0"/><path d="M115.5,1627.5H731.0"/><path d="M115.5,1666.5H731.0"/><path d="M115.5,1705.5H731.0"/><path d="M115.5,1745.5H731.0"/><path d="M166.5,1509.5V1784.5"/><path d="M218.5,1509.5V1784.5"/><path d="M269.5,1509.5V1784.5"/><path d="M320.5,1509.5V1784.5"/><path d="M371.5,1509.5V1784.5"/><path d="M423.5,1509.5V1784.5"/><path d="M474.5,1509.5V1784.5"/><path d="M525.5,1509.5V1784.5"/><path d="M577.5,1509.5V1784.5"/><path d="M628.5,1509.5V1784.5"/><path d="M679.5,1509.5V1784.5"/></g><g fill="none" shape-rendering="crispEdges" stroke="#005e9c" stroke-width="1"><path d="M115.5,1509.0V1785.0M115.5,1784.5H731.0"/><path d="M110,1509.5H115.5"/><path d="M110,1548.5H115.5"/><path d="M110,1588.5H115.5"/><path d="M110,1627.5H115.5"/><path d="M110,1666.5H115.5"/><path d="M110,1705.5H115.5"/><path d="M110,1745.5H115.5"/><path d="M110,1784.5H115.5"/></g><g fill="#005e9c" shape-rendering="crispEdges"><rect x="131" y="1517.6" width="22" height="266.9"/><rect x="182" y="1607.4" width="22" height="177.1"/><rect x="234" y="1670.5" width="22" height="114.0"/><rect x="285" y="1701.3" width="22" height="83.2"/><rect x="336" y="1707.0" width="22" height="77.5"/><rect x="387" y="1747.5" width="22" height="37.0"/><rect x="438" y="1780.9" width="22" height="3.6"/><rect x="490" y="1780.9" width="22" height="3.6"/><rect x="541" y="1763.2" width="22" height="21.3"/><rect x="592" y="1699.1" width="22" height="85.4"/><rect x="644" y="1671.6" width="22" height="112.9"/><rect x="695" y="1611.5" width="22" height="173.0"/><rect x="335" y="1835" width="8" height="8"/></g>
<rect x="37" y="1870" width="703" height="150.8" rx="7" fill="#b0dcff"/><path d="M44,1870H733A7,7 0 0 1 740,1877V1900.8H37V1877A7,7 0 0 1 44,1870Z" fill="#2d9ddd"/><path transform="translate(66.8,1915.5)" d="M0,0C8,17 25,32 25,50.3A25,25 0 0 1 -25,50.3C-25,32 -8,17 0,0Z" fill="#005e9c"/><path transform="translate(125.2,1915.5)" d="M0,0C8,17 25,32 25,50.3A25,25 0 0 1 -25,50.3C-25,32 -8,17 0,0Z" fill="#005e9c"/><path transform="translate(183.7,1915.5)" d="M0,0C8,17 25,32 25,50.3A25,25 0 0 1 -25,50.3C-25,32 -8,17 0,0Z" fill="#2d9ddd"/><path transform="translate(242.2,1915.5)" d="M0,0C8,17 25,32 25,50.3A25,25 0 0 1 -25,50.3C-25,32 -8,17 0,0Z" fill="#2d9ddd"/><path transform="translate(300.6,1915.5)" d="M0,0C8,17 25,32 25,50.3A25,25 0 0 1 -25,50.3C-25,32 -8,17 0,0Z" fill="#2d9ddd"/><path transform="translate(359.1,1915.5)" d="M0,0C8,17 25,32 25,50.3A25,25 0 0 1 -25,50.3C-25,32 -8,17 0,0Z" fill="#2d9ddd"/><path transform="translate(417.5,1915.5)" d="M0,0C8,17 25,32 25,50.3A25,25 0 0 1 -25,50.3C-25,32 -8,17 0,0Z" fill="#ecf6fe"/><path transform="translate(476.0,1915.5)" d="M0,0C8,17 25,32 25,50.3A25,25 0 0 1 -25,50.3C-25,32 -8,17 0,0Z" fill="#ecf6fe"/><path transform="translate(534.4,1915.5)" d="M0,0C8,17 25,32 25,50.3A25,25 0 0 1 -25,50.3C-25,32 -8,17 0,0Z" fill="#2d9ddd"/><path transform="translate(592.9,1915.5)" d="M0,0C8,17 25,32 25,50.3A25,25 0 0 1 -25,50.3C-25,32 -8,17 0,0Z" fill="#2d9ddd"/><path transform="translate(651.3,1915.5)" d="M0,0C8,17 25,32 25,50.3A25,25 0 0 1 -25,50.3C-25,32 -8,17 0,0Z" fill="#2d9ddd"/><path transform="translate(709.8,1915.5)" d="M0,0C8,17 25,32 25,50.3A25,25 0 0 1 -25,50.3C-25,32 -8,17 0,0Z" fill="#005e9c"/>
<text x="526.6" y="1418.7" font-size="42.4" font-weight="bold" stroke="#005e9c" stroke-width="0.51" textLength="145.1" lengthAdjust="spacingAndGlyphs">OPADY</text>
<text x="784.8" y="1523.3" font-size="20.2" textLength="279.5" lengthAdjust="spacingAndGlyphs">Średnia roczna suma opadów w</text>
<text x="784.6" y="1546.9" font-size="20.2" textLength="334.7" lengthAdjust="spacingAndGlyphs">miejscowości Aliağa to około 584 mm.</text>
<text x="784.1" y="1570.5" font-size="20.2" textLength="356.7" lengthAdjust="spacingAndGlyphs">Różnica pomiędzy najwyższymi opadami</text>
<text x="784.6" y="1594.1" font-size="20.2" textLength="357.3" lengthAdjust="spacingAndGlyphs">(styczeń) i najniższymi (lipiec) wynosi 134</text>
<text x="784.5" y="1617.7" font-size="20.2" textLength="41.6" lengthAdjust="spacingAndGlyphs">mm.</text>
<text x="784.1" y="1665.0" font-size="20.2" textLength="281.5" lengthAdjust="spacingAndGlyphs">Najwięcej opadów pojawia się w</text>
<text x="785.3" y="1688.6" font-size="20.2" textLength="356.1" lengthAdjust="spacingAndGlyphs">styczniu, w tym okresie miesięczna suma</text>
<text x="785.1" y="1712.2" font-size="20.2" textLength="300.4" lengthAdjust="spacingAndGlyphs">opadów oscyluje wokół 135 mm, a</text>
<text x="784.6" y="1735.8" font-size="20.2" textLength="331.8" lengthAdjust="spacingAndGlyphs">prawdopodobieństwo ich wystąpienia</text>
<text x="785.8" y="1759.4" font-size="20.2" textLength="338.6" lengthAdjust="spacingAndGlyphs">wynosi około 34%. Natomiast najmniej</text>
<text x="785.1" y="1783.0" font-size="20.2" textLength="341.4" lengthAdjust="spacingAndGlyphs">opadów notuje się w lipcu - średnio 1.6</text>
<text x="784.6" y="1806.6" font-size="20.2" textLength="330.9" lengthAdjust="spacingAndGlyphs">mm, a szanse na wystąpienie opadów</text>
<text x="785.8" y="1830.2" font-size="20.2" textLength="112.3" lengthAdjust="spacingAndGlyphs">wynoszą 0%.</text>
<text x="784.7" y="1908.3" font-size="20.2" font-weight="bold" stroke="#005e9c" stroke-width="0.24" textLength="286.5" lengthAdjust="spacingAndGlyphs">ROCZNE OPADY WEDŁUG TYPU</text>
<text x="785.1" y="1941.6" font-size="20.2" textLength="118.2" lengthAdjust="spacingAndGlyphs">• Deszcz: 99%</text>
<text x="785.1" y="1970.6" font-size="20.2" textLength="95.2" lengthAdjust="spacingAndGlyphs">• Śnieg: 1%</text>
<text x="61.5" y="1512.8" font-size="11" font-family="DejaVu Sans, sans-serif" textLength="43.9" lengthAdjust="spacingAndGlyphs">140 mm</text>
<text x="61.5" y="1552.1" font-size="11" font-family="DejaVu Sans, sans-serif" textLength="43.9" lengthAdjust="spacingAndGlyphs">120 mm</text>
<text x="61.5" y="1591.4" font-size="11" font-family="DejaVu Sans, sans-serif" textLength="43.9" lengthAdjust="spacingAndGlyphs">100 mm</text>
<text x="68.2" y="1630.7" font-size="11" font-family="DejaVu Sans, sans-serif" textLength="37.2" lengthAdjust="spacingAndGlyphs">80 mm</text>
<text x="68.2" y="1669.9" font-size="11" font-family="DejaVu Sans, sans-serif" textLength="37.2" lengthAdjust="spacingAndGlyphs">60 mm</text>
<text x="68.2" y="1709.2" font-size="11" font-family="DejaVu Sans, sans-serif" textLength="37.2" lengthAdjust="spacingAndGlyphs">40 mm</text>
<text x="68.2" y="1748.5" font-size="11" font-family="DejaVu Sans, sans-serif" textLength="37.2" lengthAdjust="spacingAndGlyphs">20 mm</text>
<text x="74.9" y="1787.8" font-size="11" font-family="DejaVu Sans, sans-serif" textLength="30.5" lengthAdjust="spacingAndGlyphs">0 mm</text>
<text x="128.5" y="1805.0" font-size="12" font-family="DejaVu Sans, sans-serif">Sty</text>
<text x="179.8" y="1805.0" font-size="12" font-family="DejaVu Sans, sans-serif">Lut</text>
<text x="228.9" y="1805.0" font-size="12" font-family="DejaVu Sans, sans-serif">Mar</text>
<text x="281.6" y="1805.0" font-size="12" font-family="DejaVu Sans, sans-serif">Kwi</text>
<text x="332.9" y="1805.0" font-size="12" font-family="DejaVu Sans, sans-serif">Maj</text>
<text x="383.7" y="1805.0" font-size="12" font-family="DejaVu Sans, sans-serif">Cze</text>
<text x="437.0" y="1805.0" font-size="12" font-family="DejaVu Sans, sans-serif">Lip</text>
<text x="488.1" y="1805.0" font-size="12" font-family="DejaVu Sans, sans-serif">Sie</text>
<text x="537.4" y="1805.0" font-size="12" font-family="DejaVu Sans, sans-serif">Wrz</text>
<text x="589.5" y="1805.0" font-size="12" font-family="DejaVu Sans, sans-serif">Paź</text>
<text x="642.8" y="1805.0" font-size="12" font-family="DejaVu Sans, sans-serif">Lis</text>
<text x="691.8" y="1805.0" font-size="12" font-family="DejaVu Sans, sans-serif">Gru</text>
<text transform="translate(50.0,1668.5) rotate(-90)" font-size="12" font-family="DejaVu Sans, sans-serif" textLength="42.9" lengthAdjust="spacingAndGlyphs">Opady</text>
<text x="350.9" y="1842.6" font-size="12" font-family="DejaVu Sans, sans-serif" textLength="89.5" lengthAdjust="spacingAndGlyphs">Suma opadów</text>
<text x="319.0" y="1892.6" font-size="16.6" font-weight="bold" fill="#ffffff" stroke="#ffffff" stroke-width="0.20" textLength="139.7" lengthAdjust="spacingAndGlyphs">SZANSA OPADÓW</text>
<text x="49.0" y="1972.5" font-size="18.1" font-weight="bold" fill="#ffffff" stroke="#ffffff" stroke-width="0.22">34%</text>
<text x="55.3" y="2008.8" font-size="12.9" font-weight="bold" stroke="#005e9c" stroke-width="0.15" textLength="21.3" lengthAdjust="spacingAndGlyphs">STY</text>
<text x="107.4" y="1972.5" font-size="18.1" font-weight="bold" fill="#ffffff" stroke="#ffffff" stroke-width="0.22">32%</text>
<text x="113.5" y="2008.8" font-size="12.9" font-weight="bold" stroke="#005e9c" stroke-width="0.15" textLength="21.3" lengthAdjust="spacingAndGlyphs">LUT</text>
<text x="165.9" y="1972.5" font-size="18.1" font-weight="bold" fill="#ffffff" stroke="#ffffff" stroke-width="0.22">23%</text>
<text x="170.3" y="2008.8" font-size="12.9" font-weight="bold" stroke="#005e9c" stroke-width="0.15" textLength="25.0" lengthAdjust="spacingAndGlyphs">MAR</text>
<text x="224.1" y="1972.5" font-size="18.1" font-weight="bold" fill="#ffffff" stroke="#ffffff" stroke-width="0.22">14%</text>
<text x="230.7" y="2008.8" font-size="12.9" font-weight="bold" stroke="#005e9c" stroke-width="0.15" textLength="21.3" lengthAdjust="spacingAndGlyphs">KWI</text>
<text x="282.5" y="1972.5" font-size="18.1" font-weight="bold" fill="#ffffff" stroke="#ffffff" stroke-width="0.22">12%</text>
<text x="288.2" y="2008.8" font-size="12.9" font-weight="bold" stroke="#005e9c" stroke-width="0.15" textLength="23.1" lengthAdjust="spacingAndGlyphs">MAJ</text>
<text x="346.1" y="1972.5" font-size="18.1" font-weight="bold" fill="#ffffff" stroke="#ffffff" stroke-width="0.22">7%</text>
<text x="347.3" y="2008.8" font-size="12.9" font-weight="bold" stroke="#005e9c" stroke-width="0.15" textLength="21.9" lengthAdjust="spacingAndGlyphs">CZE</text>
<text x="404.6" y="1972.5" font-size="18.1" font-weight="bold" stroke="#005e9c" stroke-width="0.22">0%</text>
<text x="408.1" y="2008.8" font-size="12.9" font-weight="bold" stroke="#005e9c" stroke-width="0.15" textLength="17.1" lengthAdjust="spacingAndGlyphs">LIP</text>
<text x="463.0" y="1972.5" font-size="18.1" font-weight="bold" stroke="#005e9c" stroke-width="0.22">0%</text>
<text x="466.3" y="2008.8" font-size="12.9" font-weight="bold" stroke="#005e9c" stroke-width="0.15" textLength="17.7" lengthAdjust="spacingAndGlyphs">SIE</text>
<text x="521.6" y="1972.5" font-size="18.1" font-weight="bold" fill="#ffffff" stroke="#ffffff" stroke-width="0.22">5%</text>
<text x="521.3" y="2008.8" font-size="12.9" font-weight="bold" stroke="#005e9c" stroke-width="0.15" textLength="25.0" lengthAdjust="spacingAndGlyphs">WRZ</text>
<text x="574.8" y="1972.5" font-size="18.1" font-weight="bold" fill="#ffffff" stroke="#ffffff" stroke-width="0.22">14%</text>
<text x="581.3" y="2008.8" font-size="12.9" font-weight="bold" stroke="#005e9c" stroke-width="0.15" textLength="21.1" lengthAdjust="spacingAndGlyphs">PAŹ</text>
<text x="633.2" y="1972.5" font-size="18.1" font-weight="bold" fill="#ffffff" stroke="#ffffff" stroke-width="0.22">17%</text>
<text x="641.9" y="2008.8" font-size="12.9" font-weight="bold" stroke="#005e9c" stroke-width="0.15" textLength="17.1" lengthAdjust="spacingAndGlyphs">LIS</text>
<text x="691.9" y="1972.5" font-size="18.1" font-weight="bold" fill="#ffffff" stroke="#ffffff" stroke-width="0.22">27%</text>
<text x="696.8" y="2008.8" font-size="12.9" font-weight="bold" stroke="#005e9c" stroke-width="0.15" textLength="24.4" lengthAdjust="spacingAndGlyphs">GRU</text>
</g>
<g id="footer"><rect x="0" y="2082.5" width="1200" height="57.5" fill="#005e9c"/>
<g fill="none" stroke="#b0dcff" stroke-width="3"><circle cx="58.3" cy="2111.3" r="16.6"/><circle cx="106.3" cy="2111.3" r="16.6"/><circle cx="154.5" cy="2111.3" r="16.6"/></g><text x="47.6" y="2116.4" font-size="18" font-weight="bold" font-family="DejaVu Sans, sans-serif" fill="#b0dcff" textLength="21.4" lengthAdjust="spacingAndGlyphs">cc</text><g fill="#b0dcff"><circle cx="106.3" cy="2101.8" r="2.6"/><path d="M101.8,2105.5h9v8.5h-2v8.5h-5v-8.5h-2z"/><rect x="147.8" y="2107.9" width="13.6" height="3.3"/><rect x="147.8" y="2113.6" width="13.6" height="3.3"/></g>
<text x="184.8" y="2117.5" font-size="15" font-weight="bold" font-family="DejaVu Sans, sans-serif" fill="#b0dcff" textLength="114.7" lengthAdjust="spacingAndGlyphs">CC BY-ND 4.0</text>
<text x="982.2" y="2120.0" font-size="22.8" font-weight="bold" fill="#ffffff" stroke="#ffffff" stroke-width="0.27" textLength="176.1" lengthAdjust="spacingAndGlyphs">METEOATLAS.PL</text>
</g>
</svg>
</body>
</html>
